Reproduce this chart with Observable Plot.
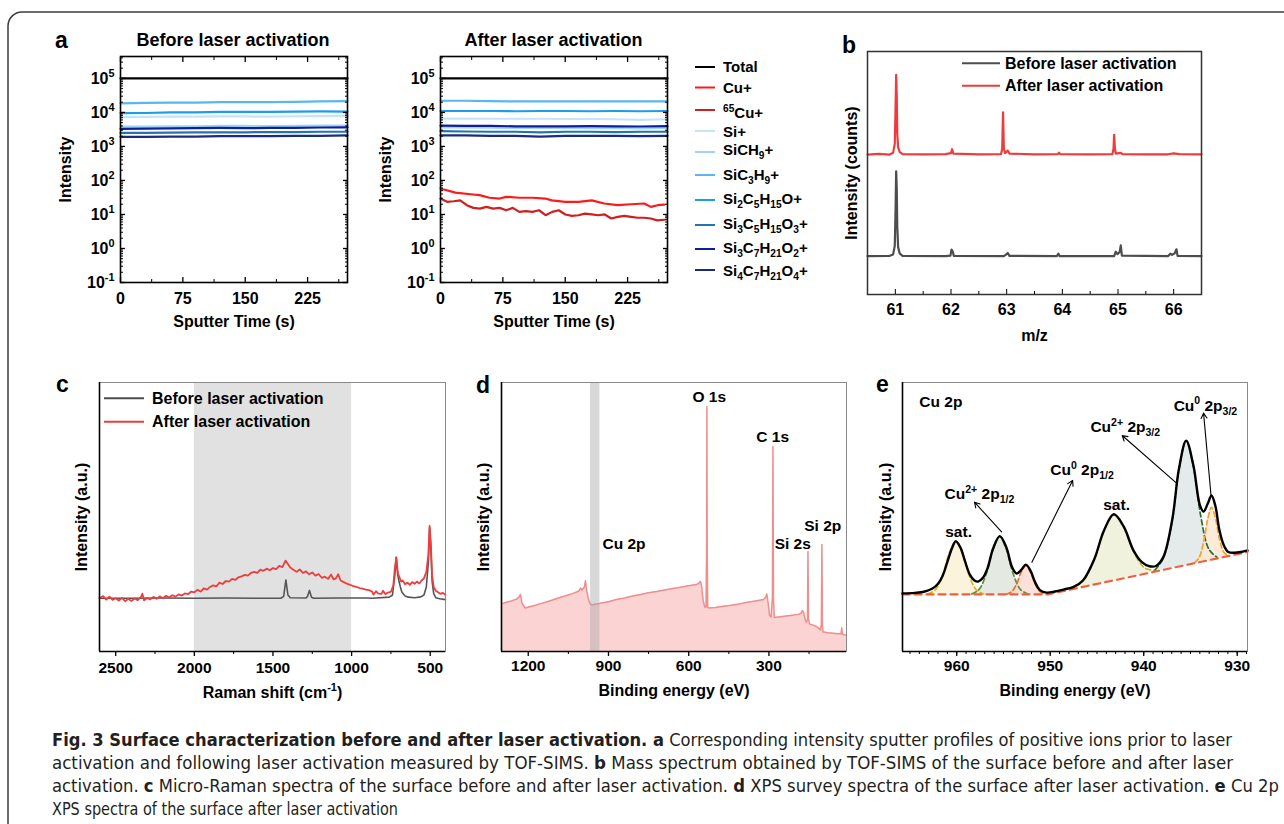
<!DOCTYPE html>
<html><head><meta charset="utf-8">
<script src="https://cdn.jsdelivr.net/npm/d3@7"></script>
<script src="https://cdn.jsdelivr.net/npm/@observablehq/plot@0.6"></script>
<style>
html,body{margin:0;padding:0;background:#fff;}
#root{position:relative;width:1284px;height:824px;overflow:hidden;background:#fff;}
.panel{position:absolute;}
.panel svg{overflow:visible;display:block;}
</style></head><body><div id="root"></div>
<script>
// ---------------- DATA ----------------
// Panel a: TOF-SIMS depth profiles
const ions = ["Total","Cu+","65Cu+","Si+","SiCH9+","SiC3H9+","Si2C5H15O+","Si3C5H15O3+","Si3C7H21O2+","Si4C7H21O4+"];
const ionLabels = ["Total","Cu+","^{65}Cu+","Si+","SiCH_{9}+","SiC_{3}H_{9}+","Si_{2}C_{5}H_{15}O+","Si_{3}C_{5}H_{15}O_{3}+","Si_{3}C_{7}H_{21}O_{2}+","Si_{4}C_{7}H_{21}O_{4}+"];
const aTime = [0,30,60,90,120,150,180,210,240,273];
const beforeValues = [
  [1e5,1e5,1e5,1e5,1e5,1e5,1e5,1e5,1e5,1e5],
  null,
  null,
  [7300,7400,7500,7500,7600,7600,7500,7700,7800,7900],
  [3800,3800,3900,3900,4000,4000,3950,4000,4100,4100],
  [18500,19000,19500,19500,20000,20000,20000,20500,21000,21500],
  [9500,9600,10000,10000,10300,10300,10400,10500,10700,10500],
  [2500,2500,2550,2600,2600,2600,2650,2650,2700,2700],
  [3300,3350,3400,3450,3500,3450,3500,3500,3600,3650],
  [1900,1900,1950,1950,2000,2000,2000,2050,2050,2100]
];
const afterValues = [
  [1e5,1e5,1e5,1e5,1e5,1e5,1e5,1e5,1e5,1e5],
  null,
  null,
  [6600,6600,6500,6500,6500,6400,6400,6300,6000,6300],
  [3600,3600,3550,3500,3500,3500,3450,3500,3400,3500],
  [22000,22000,21500,21000,21000,21000,21000,21000,21000,21000],
  [11000,11000,11000,10800,11000,11000,10800,11000,10800,11000],
  [2800,2750,2700,2700,2600,2700,2700,2650,2700,2700],
  [4100,4000,4000,3900,3900,3900,3950,3900,3850,3950],
  [2100,2100,2050,2050,1950,2050,2050,2050,2000,2050]
];
const cuTime = [0,3,18,39,47,59,71,79,95,111,126,134,150,166,182,197,213,229,245,253,261,269];
const cuAfter = [58,55,44,38.6,37,31,29.4,33,31,31,29.4,26,23.5,23.5,26,21,18.7,20,21,16.7,18.7,19.5];
const cu65Time = [0,7.9,15.8,23.7,31.6,39.5,47.4,55.3,63.2,71.1,79,86.9,94.8,102.7,110.6,118.5,126.4,134.3,142.2,150.1,158,165.9,173.8,181.7,189.6,197.5,205.4,213.3,221.2,229.1,237,244.9,252.8,260.7,269.4];
const cu65After = [29.4,23.5,24.5,26,18.7,15.6,14.9,16.7,14.9,15.6,13.3,15.6,11.9,12.5,11.9,13.3,9.5,11.9,13.3,10,9.1,9.5,10.6,10,9.5,10,7.6,8.5,9.1,8.5,8.0,8.0,7.6,6.7,7.0];
const aXTicks = [0,75,150,225];
const aYTicks = [0.1,1,10,100,1e3,1e4,1e5];

// Panel b: mass spectra [m/z, counts(a.u.)]
const bSeries = ["Before laser activation","After laser activation"];
const bBefore = [[60.5,15.8],[60.9,15.9],[60.96,16.5],[60.99,20],[61.005,36],[61.015,50.7],[61.025,44],[61.035,28],[61.05,19.5],[61.08,16.8],[61.13,15.9],[61.9,15.8],[61.99,16],[62.01,18.5],[62.03,17.8],[62.05,15.9],[62.95,15.8],[63.0,16.6],[63.02,17.1],[63.05,15.9],[63.9,15.8],[63.93,16.8],[63.95,15.8],[64.93,15.8],[64.96,17.6],[64.99,16.6],[65.03,17.5],[65.05,20.2],[65.07,16],[65.9,15.8],[65.94,16.8],[65.97,16.3],[66.02,17],[66.05,18.6],[66.07,15.9],[66.5,15.8]];
const bAfter = [[60.5,57.6],[60.7,57.9],[60.9,57.6],[60.96,58.3],[60.99,62],[61.005,78],[61.015,90.4],[61.025,82],[61.035,66],[61.05,60.5],[61.08,58.6],[61.13,57.8],[61.5,57.7],[61.9,57.8],[62.0,58.2],[62.02,59.8],[62.04,58.0],[62.5,57.7],[62.9,57.8],[62.92,60],[62.935,75],[62.95,60],[62.97,58.2],[63.02,59.2],[63.05,58],[63.5,57.7],[63.92,57.8],[63.94,58.4],[63.96,57.8],[64.5,57.7],[64.9,57.8],[64.92,60],[64.93,65.7],[64.945,60],[64.96,58],[65.05,58.3],[65.08,57.8],[65.5,57.7],[65.9,57.7],[66.0,58.1],[66.1,57.8],[66.5,57.7]];
const bXTicks = [61,62,63,64,65,66];
const bXMinor = [61.5,62.5,63.5,64.5,65.5];

// Panel c: Raman [shift, intensity]
const cBand = [[2000,1000]];
const cBefore = [[2603,19.8],[2400,19.8],[2200,19.9],[2000,19.8],[1800,19.9],[1600,19.8],[1450,19.8],[1432,20.5],[1418,26.6],[1405,21],[1390,20],[1290,19.9],[1280,20.5],[1268,22.7],[1255,20.2],[1240,19.8],[1100,19.9],[900,19.9],[870,19.8],[760,20.2],[740,21],[726,28],[716,35],[708,29],[700,26.5],[690,24],[680,22],[660,20.6],[640,20.2],[600,20.0],[560,20.3],[540,21],[525,24],[512,33],[504,46],[496,38],[488,26],[478,21.5],[465,20],[440,19.6],[403,19.3]];
const cAfter = [[2603,19.8],[2580,20.6],[2560,19.3],[2540,20.4],[2520,19.2],[2500,19.8],[2480,18.9],[2460,19.9],[2440,18.7],[2420,19.6],[2400,18.8],[2380,19.7],[2360,19.1],[2340,20.2],[2330,21.5],[2320,19.0],[2300,19.9],[2280,19.4],[2260,20.3],[2240,19.6],[2220,20.5],[2200,19.8],[2180,20.7],[2160,20.1],[2140,20.9],[2120,20.4],[2100,21.2],[2080,20.8],[2060,21.6],[2040,21.3],[2020,22.3],[2000,22.0],[1980,22.9],[1960,22.3],[1940,23.5],[1920,23.0],[1900,24.0],[1880,24.6],[1860,24.2],[1840,25.6],[1820,25.1],[1800,26.2],[1780,26.0],[1760,27.0],[1740,26.6],[1720,27.6],[1700,27.9],[1680,28.5],[1660,28.2],[1640,29.2],[1620,29.6],[1600,29.2],[1580,30.4],[1560,30.0],[1540,30.8],[1520,30.2],[1500,31.0],[1480,30.6],[1460,31.8],[1440,31.4],[1420,33.8],[1405,32.5],[1390,31.2],[1370,30.4],[1350,29.6],[1330,30.5],[1310,29.2],[1290,29.8],[1270,28.7],[1250,29.4],[1230,28.2],[1210,28.8],[1190,27.4],[1170,27.8],[1150,27.0],[1130,28.6],[1115,26.8],[1100,27.2],[1085,28.7],[1070,26.4],[1050,25.8],[1030,25.2],[1010,24.8],[990,24.3],[970,24.0],[950,23.6],[930,23.4],[910,23.0],[890,22.8],[870,22.3],[860,21.2],[845,22.4],[830,21.5],[810,21.4],[800,22.6],[785,21.3],[770,21.9],[750,22.2],[735,24.5],[725,31],[716,35],[705,29],[695,27.5],[685,26],[675,26.4],[660,25.0],[645,25.6],[630,24.8],[615,25.8],[600,25.2],[585,26.0],[570,25.3],[555,26.4],[540,27.2],[525,29.5],[512,36],[504,46.7],[496,40],[488,28],[478,24],[465,22.6],[450,22.0],[435,21.4],[420,21.8],[403,21.0]];
const cXTicks = [2500,2000,1500,1000,500];
const cXMinor = [2250,1750,1250,750];

// Panel d: XPS survey [binding energy, intensity]
const dSurvey = [[1300,17.7],[1280,18.3],[1260,18.9],[1245,19.4],[1235,20.2],[1229,21.2],[1224,18.2],[1212,16.2],[1180,17.0],[1150,17.9],[1120,18.8],[1090,19.8],[1060,20.7],[1030,21.7],[1010,22.5],[1004,23.6],[999,22.8],[990,24.0],[986,26.3],[982,23.0],[975,19.5],[968,17.6],[960,17.4],[930,17.9],[900,18.5],[870,19.3],[840,19.9],[810,20.6],[780,21.2],[750,21.8],[720,22.3],[690,22.9],[660,23.4],[630,23.9],[600,24.4],[570,24.9],[560,25.6],[556,26.0],[552,24.5],[546,19.0],[540,16.5],[535,16.5],[533,40],[532,91],[531,40],[529,16.5],[525,16.2],[500,16.4],[470,16.8],[440,17.2],[410,17.7],[380,18.3],[350,18.8],[320,19.3],[312,20.2],[308,21.4],[303,18.0],[298,13.5],[292,12.8],[287,20],[285,76.2],[283,20],[280,12.6],[250,13.0],[220,13.4],[190,13.8],[180,14.2],[175,15.2],[170,14.4],[164,11.6],[160,10.9],[156,12],[154,37.2],[152,12],[148,10.2],[135,9.8],[125,9.4],[118,9.0],[108,8.0],[104,10],[102,39.8],[100,10],[98,7.3],[80,7.0],[60,6.8],[40,6.6],[30,6.6],[28,8.8],[25,6.4],[10,6.0]];
const dBand = [[967,932]];
const dLabels = ["O 1s","C 1s","Si 2s","Si 2p","Cu 2p"];
const dLabelAt = [[523,94.5],[286,79.7],[211,40],[99,46.8],[842,40]];
const dXTicks = [1200,900,600,300];
const dXMinor = [1050,750,450,150];

// Panel e: Cu 2p high resolution
const eEnvelope = [[965.8,21.6],[964.5,21.8],[963.5,22.2],[962.6,23.4],[962.0,25.2],[961.5,28.2],[961.0,33.3],[960.5,38.5],[960.1,41.0],[959.6,38.6],[959.1,33.4],[958.6,28.6],[958.1,26.4],[957.7,26.0],[957.2,27.4],[956.7,31.0],[956.1,38.4],[955.4,42.9],[954.7,38.8],[954.1,31.5],[953.6,29.0],[953.1,30.3],[952.6,32.3],[952.1,30.0],[951.6,25.6],[951.1,22.8],[950.4,21.9],[949.5,22.3],[948.5,23.1],[947.5,24.0],[946.5,26.4],[945.3,34.2],[944.25,45.0],[943.2,51.0],[942.15,46.5],[941.1,37.6],[940.2,33.2],[939.4,31.7],[938.7,31.8],[937.92,35.0],[936.96,48.8],[936.23,67.9],[935.46,78.4],[934.69,69.2],[934.0,54.5],[933.6,52.0],[933.17,54.8],[932.75,58.0],[932.33,54.0],[931.91,45.2],[931.43,39.5],[930.95,37.0],[930.3,36.7],[929.6,37.0],[928.9,37.6]];
const eBaseline = [[965.8,21.2],[950.3,21.2],[928.9,37.0]];
const eComponentNames = ["sat. 1","Cu2+ 2p1/2","Cu0 2p1/2","sat. 2","Cu2+ 2p3/2","Cu0 2p3/2"];
const eComponents = [
  [[963.1,21.2,21.4],[962.3,21.2,22.9],[961.5,21.2,28.6],[960.8,21.2,36.6],[960.1,21.2,41],[959.4,21.2,36.6],[958.7,21.2,28.6],[957.9,21.2,22.9],[957.1,21.2,21.4]],
  [[958.4,21.2,21.4],[957.6,21.2,23.1],[956.8,21.2,29.3],[956.1,21.2,38.0],[955.4,21.2,42.8],[954.7,21.2,38.0],[954.0,21.2,29.3],[953.2,21.2,23.1],[952.4,21.2,21.4]],
  [[954.7,21.2,21.3],[954.14,21.2,22.2],[953.58,21.2,25.2],[953.11,21.2,29.5],[952.6,21.2,31.9],[952.11,21.2,29.5],[951.62,21.2,25.2],[951.06,21.2,22.2],[950.5,21.2,21.3]],
  [[947.7,23.1,23.4],[946.5,24.0,26.2],[945.3,24.9,34.1],[944.25,25.7,44.9],[943.2,26.4,51.0],[942.15,27.2,46.4],[941.1,28.0,37.2],[939.9,28.9,31.1],[938.7,29.8,30.1]],
  [[938.8,29.8,30.3],[937.92,30.4,34.6],[936.96,31.1,48.5],[936.23,31.6,67.7],[935.46,32.1,78.4],[934.69,32.7,68.8],[933.92,33.3,50.7],[933.04,33.9,38.1],[932.16,34.5,35.0]],
  [[934.55,32.8,33.0],[934.07,33.2,35.0],[933.59,33.5,40.8],[933.17,33.8,49.0],[932.75,34.1,53.6],[932.33,34.4,49.6],[931.91,34.7,42.0],[931.43,35.1,36.9],[930.95,35.4,35.6]]
];
// labels starting at their anchor, and centred labels
const eStartLabels = ["Cu 2p","Cu^{2+} 2p_{1/2}","Cu^{0} 2p_{1/2}","Cu^{2+} 2p_{3/2}","Cu^{0} 2p_{3/2}"];
const eStartAt = [[964,92.6],[961.3,58.4],[950.0,67.3],[945.7,83.4],[936.8,91.4]];
const eMidLabels = ["sat.","sat."];
const eMidAt = [[959.8,44.3],[942.9,54.5]];
const eArrows = [[955.2,44.5,958.1,55.5],[951.96,33.2,947.6,63.6],[936.4,62.3,942.3,80.3],[932.8,58.0,933.6,88.6]];
const eXTicks = [960,950,940,930];

// ---------------- STYLE ----------------
const FONT = '"Liberation Sans", Arial, Helvetica, sans-serif';
const ionColors = ["#000000","#ff1a1a","#d01f1f","#c4e5f9","#9fd4f5","#5ab6ef","#1c9ced","#2274b3","#0b1f9f","#1d2b7c"];
const drawOrder = [3,4,5,6,7,8,9,0,2,1];
const compStroke = ["#e2b21c","#5d8f3a","#f26b2a","#b8b82a","#2f6a35","#f2a22a"];
const compFill = ["#fbf1d6","#dfe6dc","#fbdcd3","#eef0d8","#dfe7e6","#fbe8d2"];
const root = document.getElementById("root");

function rich(svg) {
  d3.select(svg).selectAll("text").each(function () {
    const el = this, s = el.textContent;
    if (!/[\^_]\{/.test(s)) return;
    const fs = parseFloat(getComputedStyle(el).fontSize) || 16;
    el.textContent = "";
    let shift = 0;
    s.split(/(\^\{[^}]*\}|_\{[^}]*\})/g).forEach(part => {
      if (!part) return;
      let target = 0, txt = part, small = false;
      if (part.startsWith("^{")) { target = -0.42 * fs; txt = part.slice(2, -1); small = true; }
      else if (part.startsWith("_{")) { target = 0.26 * fs; txt = part.slice(2, -1); small = true; }
      const ts = document.createElementNS("http://www.w3.org/2000/svg", "tspan");
      if (target - shift !== 0) ts.setAttribute("dy", (target - shift).toFixed(2));
      if (small) ts.setAttribute("font-size", (0.68 * fs).toFixed(1));
      ts.textContent = txt;
      el.appendChild(ts);
      shift = target;
    });
  });
}
function mount(svg, left, top, mL, mT) {
  const div = document.createElement("div");
  div.className = "panel";
  div.style.left = (left - mL) + "px";
  div.style.top = (top - mT) + "px";
  div.appendChild(svg);
  root.appendChild(div);
  rich(svg);
}
const baseStyle = fs => ({fontFamily: FONT, fontWeight: "bold", fontSize: fs + "px", color: "#000", background: "transparent", overflow: "visible"});
const pts = arr => arr.map(([x, y]) => ({x, y}));
const xTitle = (t, dy) => Plot.text([t], {frameAnchor: "bottom", dy, text: d => d, fontSize: 16, textAnchor: "middle", lineAnchor: "middle"});
const yTitle = (t, dx) => Plot.text([t], {frameAnchor: "left", dx, rotate: -90, text: d => d, fontSize: 16, textAnchor: "middle", lineAnchor: "middle"});

// ---------------- PANEL a ----------------
const aXMinor = [37.5,112.5,187.5,262.5];
const aYMinor = d3.range(-1, 6).flatMap(k => d3.range(2, 10).map(m => m * 10 ** k)).filter(v => v < 4.4e5);
function panelA(values, cu, cu65, left) {
  const mL = 75, mR = 12, mT = 10, mB = 55, W = 227, H = 226;
  const marks = [];
  drawOrder.forEach(i => {
    let t = aTime, v = values[i];
    if (i === 1) { t = cuTime; v = cu; }
    if (i === 2) { t = cu65Time; v = cu65; }
    if (!v) return;
    marks.push(Plot.line(t.map((tt, j) => ({t: tt, v: v[j]})), {x: "t", y: "v", stroke: ionColors[i], strokeWidth: 2.2}));
  });
  marks.push(
    Plot.frame({stroke: "#000", strokeWidth: 1.6}),
    Plot.axisX({anchor: "bottom", ticks: aXTicks, tickSize: -5, tickPadding: 15, tickFormat: d => String(d), label: null, strokeWidth: 1.3}),
    Plot.axisX({anchor: "bottom", ticks: aXMinor, tickSize: -3, tickFormat: () => "", label: null}),
    Plot.axisX({anchor: "top", ticks: aXTicks, tickSize: -5, tickFormat: () => "", label: null, strokeWidth: 1.3}),
    Plot.axisX({anchor: "top", ticks: aXMinor, tickSize: -3, tickFormat: () => "", label: null}),
    Plot.axisY({anchor: "left", ticks: aYTicks, tickSize: -5, tickPadding: 11, tickFormat: d => `10^{${Math.round(Math.log10(d))}}`, label: null, strokeWidth: 1.3}),
    Plot.axisY({anchor: "left", ticks: aYMinor, tickSize: -3, tickFormat: () => "", label: null}),
    Plot.axisY({anchor: "right", ticks: aYTicks, tickSize: -5, tickFormat: () => "", label: null, strokeWidth: 1.3}),
    Plot.axisY({anchor: "right", ticks: aYMinor, tickSize: -3, tickFormat: () => "", label: null}),
    xTitle("Sputter Time (s)", 39),
    yTitle("Intensity", -55)
  );
  const svg = Plot.plot({
    width: W + mL + mR, height: H + mT + mB, marginLeft: mL, marginRight: mR, marginTop: mT, marginBottom: mB,
    x: {domain: [0, 273]}, y: {type: "log", domain: [0.1, 4.4e5]},
    style: baseStyle(16), marks
  });
  mount(svg, left, 56, mL, mT);
}
panelA(beforeValues, null, null, 120);
panelA(afterValues, cuAfter, cu65After, 440);

// ---------------- PANEL b ----------------
{
  const mL = 30, mR = 10, mT = 10, mB = 55, W = 334, H = 243;
  const svg = Plot.plot({
    width: W + mL + mR, height: H + mT + mB, marginLeft: mL, marginRight: mR, marginTop: mT, marginBottom: mB,
    x: {domain: [60.5, 66.5]}, y: {domain: [0, 100], axis: null},
    style: baseStyle(16),
    marks: [
      Plot.line(pts(bBefore), {x: "x", y: "y", stroke: "#4d4d4d", strokeWidth: 2.2}),
      Plot.line(pts(bAfter), {x: "x", y: "y", stroke: "#ef3b3b", strokeWidth: 2.2}),
      Plot.frame({stroke: "#333", strokeWidth: 1.5}),
      Plot.axisX({anchor: "bottom", ticks: bXTicks, tickSize: -5, tickPadding: 14, tickFormat: d => String(d), label: null}),
      Plot.axisX({anchor: "bottom", ticks: bXMinor, tickSize: -3, tickFormat: () => "", label: null}),
      xTitle("m/z", 41),
      yTitle("Intensity (counts)", -16)
    ]
  });
  mount(svg, 867, 51, mL, mT);
}

// ---------------- PANEL c ----------------
{
  const mL = 30, mR = 10, mT = 10, mB = 55, W = 346, H = 269;
  const svg = Plot.plot({
    width: W + mL + mR, height: H + mT + mB, marginLeft: mL, marginRight: mR, marginTop: mT, marginBottom: mB,
    x: {domain: [2603, 403]}, y: {domain: [0, 100], axis: null},
    style: baseStyle(15.5),
    marks: [
      Plot.rect(cBand, {x1: d => d[0], x2: d => d[1], fill: "#e1e1e1"}),
      Plot.line(pts(cBefore), {x: "x", y: "y", stroke: "#555", strokeWidth: 1.6}),
      Plot.line(pts(cAfter), {x: "x", y: "y", stroke: "#f03c3c", strokeWidth: 1.8}),
      Plot.frame({stroke: "#8a8a8a", strokeWidth: 1}),
      Plot.ruleX([2603], {stroke: "#000", strokeWidth: 1.6}),
      Plot.ruleY([0], {stroke: "#000", strokeWidth: 1.6}),
      Plot.axisX({anchor: "bottom", ticks: cXTicks, tickSize: 5, tickPadding: 5, tickFormat: d => String(d), label: null, strokeWidth: 1.3}),
      Plot.axisX({anchor: "bottom", ticks: cXMinor, tickSize: 3, tickFormat: () => "", label: null}),
      xTitle("Raman shift (cm^{-1})", 41),
      yTitle("Intensity (a.u.)", -17.5)
    ]
  });
  mount(svg, 99, 382, mL, mT);
}

// ---------------- PANEL d ----------------
{
  const mL = 30, mR = 10, mT = 10, mB = 55, W = 345, H = 269;
  const svg = Plot.plot({
    width: W + mL + mR, height: H + mT + mB, marginLeft: mL, marginRight: mR, marginTop: mT, marginBottom: mB,
    x: {domain: [1300, 10]}, y: {domain: [0, 100], axis: null},
    style: baseStyle(15.5),
    marks: [
      Plot.areaY(pts(dSurvey), {x: "x", y: "y", fill: "#fcd3d3"}),
      Plot.line(pts(dSurvey), {x: "x", y: "y", stroke: "#f08d8d", strokeWidth: 1.5}),
      Plot.rect(dBand, {x1: d => d[0], x2: d => d[1], fill: "#a8a8a8", fillOpacity: 0.45}),
      Plot.text(dLabels, {x: (d, i) => dLabelAt[i][0], y: (d, i) => dLabelAt[i][1], text: d => d, fontSize: 15.5}),
      Plot.frame({stroke: "#8a8a8a", strokeWidth: 1}),
      Plot.ruleX([1300], {stroke: "#000", strokeWidth: 1.6}),
      Plot.ruleY([0], {stroke: "#000", strokeWidth: 1.6}),
      Plot.axisX({anchor: "bottom", ticks: dXTicks, tickSize: 5, tickPadding: 3, tickFormat: d => String(d), label: null, strokeWidth: 1.3}),
      Plot.axisX({anchor: "bottom", ticks: dXMinor, tickSize: 3, tickFormat: () => "", label: null}),
      xTitle("Binding energy (eV)", 39),
      yTitle("Intensity (a.u.)", -17.5)
    ]
  });
  mount(svg, 501, 382, mL, mT);
}

// ---------------- PANEL e ----------------
{
  const mL = 30, mR = 10, mT = 10, mB = 55, W = 345, H = 269;
  const eMinor = d3.range(929, 966);
  const comps = eComponents.map(c => c.map(([x, b, t]) => ({x, b, t})));
  const marks = [];
  comps.forEach((c, i) => marks.push(Plot.areaY(c, {x: "x", y1: "b", y2: "t", fill: compFill[i], fillOpacity: 0.85, curve: "catmull-rom"})));
  comps.forEach((c, i) => marks.push(Plot.line(c, {x: "x", y: "t", stroke: compStroke[i], strokeWidth: 1.7, strokeDasharray: "5,3", curve: "catmull-rom"})));
  marks.push(
    Plot.line(pts(eBaseline), {x: "x", y: "y", stroke: "#f0603c", strokeWidth: 2.2, strokeDasharray: "7,5"}),
    Plot.line(pts(eEnvelope), {x: "x", y: "y", stroke: "#000", strokeWidth: 2.4, curve: "catmull-rom"}),
    Plot.arrow(eArrows, {x1: d => d[0], y1: d => d[1], x2: d => d[2], y2: d => d[3], stroke: "#000", strokeWidth: 1.1, headLength: 8}),
    Plot.text(eStartLabels, {x: (d, i) => eStartAt[i][0], y: (d, i) => eStartAt[i][1], text: d => d, fontSize: 15.5, textAnchor: "start"}),
    Plot.text(eMidLabels, {x: (d, i) => eMidAt[i][0], y: (d, i) => eMidAt[i][1], text: d => d, fontSize: 15.5, textAnchor: "middle"}),
    Plot.frame({stroke: "#8a8a8a", strokeWidth: 1}),
    Plot.ruleX([965.8], {stroke: "#000", strokeWidth: 1.6}),
    Plot.ruleY([0], {stroke: "#000", strokeWidth: 1.6}),
    Plot.axisX({anchor: "bottom", ticks: eXTicks, tickSize: 5, tickPadding: 3, tickFormat: d => String(d), label: null, strokeWidth: 1.3}),
    Plot.axisX({anchor: "bottom", ticks: eMinor, tickSize: 3, tickFormat: () => "", label: null}),
    xTitle("Binding energy (eV)", 39),
    yTitle("Intensity (a.u.)", -17)
  );
  const svg = Plot.plot({
    width: W + mL + mR, height: H + mT + mB, marginLeft: mL, marginRight: mR, marginTop: mT, marginBottom: mB,
    x: {domain: [965.8, 928.9]}, y: {domain: [0, 100], axis: null},
    style: baseStyle(15.5), marks
  });
  mount(svg, 902, 382, mL, mT);
}

// ---------------- OVERLAY: letters, titles, legends, caption, border ----------------
{
  const ov = d3.select(root).append("svg")
    .attr("width", 1284).attr("height", 824)
    .style("position", "absolute").style("left", "0px").style("top", "0px")
    .style("pointer-events", "none")
    .style("font-family", FONT).style("font-weight", "bold").style("fill", "#000");
  ov.append("rect").attr("x", 8).attr("y", 12).attr("width", 1320).attr("height", 860).attr("rx", 14)
    .attr("fill", "none").attr("stroke", "#3c3c3c").attr("stroke-width", 1.5);
  [["a", 55, 48], ["b", 842, 53], ["c", 56, 392], ["d", 476, 393], ["e", 876, 392]].forEach(([t, x, y]) =>
    ov.append("text").attr("x", x).attr("y", y).attr("font-size", 23).text(t));
  [["Before laser activation", 233, 46], ["After laser activation", 553.5, 46]].forEach(([t, x, y]) =>
    ov.append("text").attr("x", x).attr("y", y).attr("font-size", 18).attr("text-anchor", "middle").text(t));
  // legend a
  const lineY = [67, 87.5, 110, 131, 152, 175, 200, 225, 249, 270];
  const textY = [71.5, 92.5, 118, 136.5, 155, 180, 204, 229, 253, 276];
  ions.forEach((n, i) => {
    ov.append("line").attr("x1", 695).attr("x2", 715).attr("y1", lineY[i]).attr("y2", lineY[i])
      .attr("stroke", ionColors[i]).attr("stroke-width", 2);
    ov.append("text").attr("x", 723).attr("y", textY[i]).attr("font-size", 15).text(ionLabels[i]);
  });
  // legend b and c
  const legCols = ["#4d4d4d", "#ef3b3b"];
  [[962, 1000, 1005, [63.3, 85.7]], [104, 144, 152, [398.3, 421.7]]].forEach(([x1, x2, tx, ys]) => {
    bSeries.forEach((n, i) => {
      ov.append("line").attr("x1", x1).attr("x2", x2).attr("y1", ys[i]).attr("y2", ys[i])
        .attr("stroke", legCols[i]).attr("stroke-width", 2);
      ov.append("text").attr("x", tx).attr("y", ys[i] + 5.7).attr("font-size", 16).text(n);
    });
  });
  // caption
  const capLines = [
    [[1, "Fig. 3 Surface characterization before and after laser activation. "], [1, "a"], [0, " Corresponding intensity sputter profiles of positive ions prior to laser"]],
    [[0, "activation and following laser activation measured by TOF-SIMS. "], [1, "b"], [0, " Mass spectrum obtained by TOF-SIMS of the surface before and after laser"]],
    [[0, "activation. "], [1, "c"], [0, " Micro-Raman spectra of the surface before and after laser activation. "], [1, "d"], [0, " XPS survey spectra of the surface after laser activation. "], [1, "e"], [0, " Cu 2p"]],
    [[0, "XPS spectra of the surface after laser activation"]]
  ];
  const capEnd = [1232, 1233, 1279, 398];
  const capBase = [746, 769, 792, 815];
  capLines.forEach((segs, i) => {
    const t = ov.append("text").attr("x", 52).attr("y", capBase[i])
      .attr("font-size", 18).attr("font-weight", "normal")
      .style("font-family", '"DejaVu Sans Condensed", "Liberation Sans", sans-serif')
      .attr("fill", "#231f20")
      .attr("textLength", capEnd[i] - 52).attr("lengthAdjust", "spacingAndGlyphs");
    segs.forEach(([b, s]) => t.append("tspan").attr("font-weight", b ? "bold" : "normal").text(s));
  });
  rich(ov.node());
}
</script></body></html>
